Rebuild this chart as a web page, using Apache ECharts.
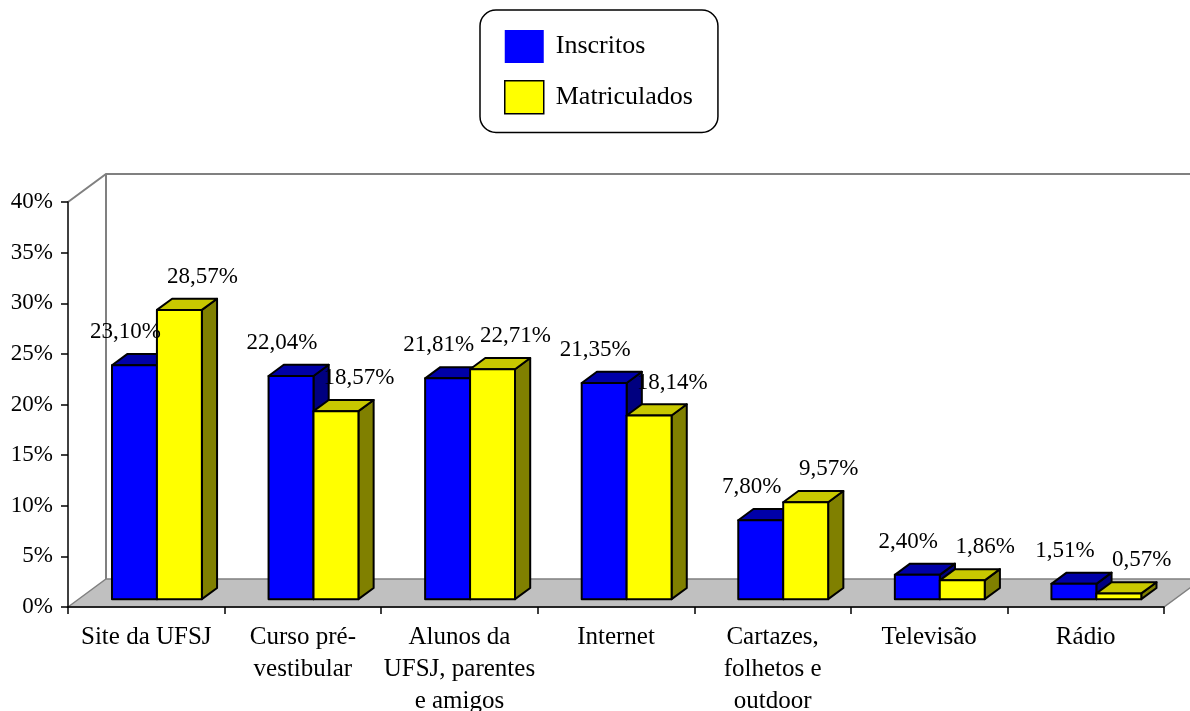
<!DOCTYPE html>
<html>
<head>
<meta charset="utf-8">
<script src="https://cdn.jsdelivr.net/npm/echarts@6/dist/echarts.min.js"></script>
<style>
  html, body { margin: 0; padding: 0; background: #fff; overflow: hidden; }
  #chart { width: 1190px; height: 711px; }
</style>
</head>
<body>
<div id="chart"></div>
<script>
// dados do grafico
var categorias = ['Site da UFSJ', 'Curso pré-\nvestibular', 'Alunos da\nUFSJ, parentes\ne amigos', 'Internet', 'Cartazes,\nfolhetos e\noutdoor', 'Televisão', 'Rádio'];
var inscritos = [23.10, 22.04, 21.81, 21.35, 7.80, 2.40, 1.51];
var matriculados = [28.57, 18.57, 22.71, 18.14, 9.57, 1.86, 0.57];
var yMax = 40;
var yPasso = 5;

(function(){

    var grafico = echarts.init(document.getElementById('chart'));
    var fonte = 'Liberation Serif, Times New Roman, serif';

    // profundidade 3D (px)
    var DX = 38, DY = -28;
    var FRENTE = 0.28;   // plano da face frontal das barras
    var PROF = 0.40;     // profundidade da barra
    var LARG = 0.287;    // largura de cada barra / largura da categoria

    function fmt(v) {
        return v.toFixed(2).replace('.', ',') + '%';
    }

    // piso e paredes
    function desenhaFundo(params, api) {
        var band = api.size([1, 0])[0];
        var p0 = api.coord([0, 0]);
        var xL = p0[0] - band / 2;
        var xR = xL + band * categorias.length;
        var y0 = p0[1];
        var yT = api.coord([0, yMax])[1];
        var cinza = '#808080';
        return {
            type: 'group',
            children: [
                {
                    type: 'polygon',
                    shape: { points: [[xL, y0], [xL + DX, y0 + DY], [xR + DX, y0 + DY], [xR, y0]] },
                    style: { fill: '#c0c0c0', stroke: cinza, lineWidth: 1.5 }
                },
                {
                    type: 'polyline',
                    shape: { points: [[xL, yT], [xL + DX, yT + DY], [xR + DX, yT + DY]] },
                    style: { fill: null, stroke: cinza, lineWidth: 2 }
                },
                {
                    type: 'line',
                    shape: { x1: xL + DX, y1: yT + DY, x2: xL + DX, y2: y0 + DY },
                    style: { stroke: cinza, lineWidth: 2 }
                }
            ]
        };
    }

    function barra3d(lado, corFrente, corTopo, corLado, labelDx) {
        return function (params, api) {
            var i = api.value(0);
            var v = api.value(1);
            var band = api.size([1, 0])[0];
            var w = band * LARG;
            var base = api.coord([i, 0]);
            var topo = api.coord([i, v]);
            var ox = DX * FRENTE, oy = DY * FRENTE;
            var sx = DX * PROF, sy = DY * PROF;
            var xl = base[0] + ox + (lado === 0 ? -w : 0);
            var yb = base[1] + oy;
            var yt = topo[1] + oy;
            var estilo = { stroke: '#000', lineWidth: 2, lineJoin: 'round' };
            return {
                type: 'group',
                children: [
                    {
                        type: 'polygon',
                        shape: { points: [[xl + w, yt], [xl + w + sx, yt + sy], [xl + w + sx, yb + sy], [xl + w, yb]] },
                        style: Object.assign({ fill: corLado }, estilo)
                    },
                    {
                        type: 'polygon',
                        shape: { points: [[xl, yt], [xl + sx, yt + sy], [xl + w + sx, yt + sy], [xl + w, yt]] },
                        style: Object.assign({ fill: corTopo }, estilo)
                    },
                    {
                        type: 'rect',
                        shape: { x: xl, y: yt, width: w, height: yb - yt },
                        style: Object.assign({ fill: corFrente }, estilo)
                    },
                    {
                        type: 'text',
                        z2: 100,
                        x: xl + w / 2 + labelDx,
                        y: yt - 33,
                        style: {
                            text: fmt(v),
                            fill: '#000',
                            font: '23px ' + fonte,
                            align: 'center',
                            verticalAlign: 'middle'
                        }
                    }
                ]
            };
        };
    }

    var option = {
        animation: false,
        backgroundColor: '#fff',
        legend: {
            left: 480,
            top: 10,
            orient: 'vertical',
            padding: [20, 25, 18, 24],
            itemWidth: 39,
            itemHeight: 33,
            itemGap: 17,
            borderColor: '#000',
            borderWidth: 1.5,
            borderRadius: 16,
            selectedMode: false,
            textStyle: { fontFamily: fonte, fontSize: 26, color: '#000', padding: [0, 0, 0, 7] },
            data: [
                { name: 'Inscritos', icon: 'rect', itemStyle: { color: '#0000ff', borderWidth: 0 } },
                { name: 'Matriculados', icon: 'rect', itemStyle: { color: '#ffff00', borderColor: '#000', borderWidth: 1.5 } }
            ]
        },
        grid: {
            left: 68,
            right: 26,
            top: 202,
            bottom: 104,
            outerBoundsMode: 'none',
            containLabel: false
        },
        xAxis: {
            type: 'category',
            data: categorias,
            boundaryGap: true,
            axisLine: { lineStyle: { color: '#000', width: 1.5 } },
            axisTick: { show: true, length: 7, lineStyle: { color: '#000', width: 1.5 } },
            axisLabel: {
                margin: 14,
                fontFamily: fonte,
                fontSize: 25,
                lineHeight: 32,
                color: '#000',
                interval: 0,
                align: 'center'
            },
            splitLine: { show: false }
        },
        yAxis: {
            type: 'value',
            min: 0,
            max: yMax,
            interval: yPasso,
            axisLine: { show: true, lineStyle: { color: '#000', width: 1.5 } },
            axisTick: { show: true, length: 7, lineStyle: { color: '#000', width: 1.5 } },
            axisLabel: {
                margin: 15,
                fontFamily: fonte,
                fontSize: 23,
                color: '#000',
                formatter: '{value}%'
            },
            splitLine: { show: false }
        },
        series: [
            {
                name: 'fundo',
                type: 'custom',
                z: -1,
                silent: true,
                renderItem: desenhaFundo,
                data: [[0, 0]]
            },
            {
                name: 'Inscritos',
                type: 'custom',
                itemStyle: { color: '#0000ff' },
                renderItem: barra3d(0, '#0000ff', '#0000a8', '#000080', -9),
                data: inscritos.map(function (v, i) { return [i, v]; })
            },
            {
                name: 'Matriculados',
                type: 'custom',
                itemStyle: { color: '#ffff00' },
                renderItem: barra3d(1, '#ffff00', '#c8c800', '#808000', 23),
                data: matriculados.map(function (v, i) { return [i, v]; })
            }
        ]
    };

    grafico.setOption(option);
})();
</script>
</body>
</html>
